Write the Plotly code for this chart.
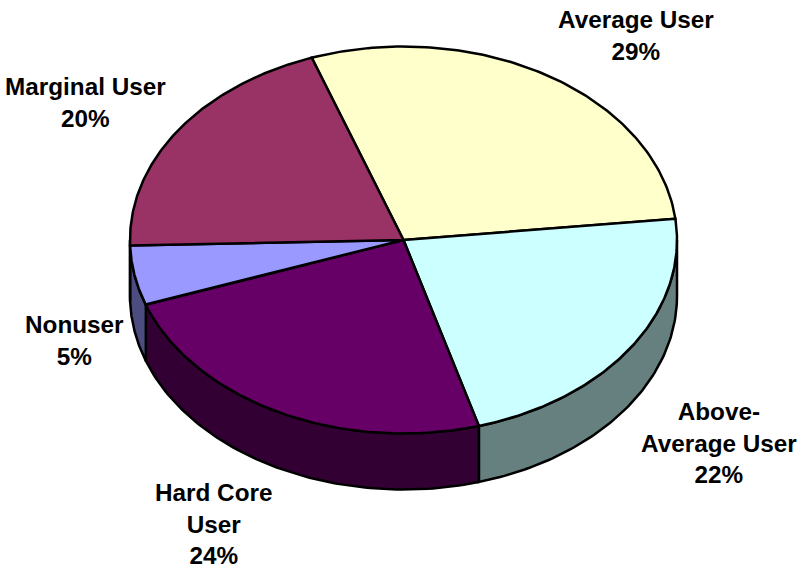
import numpy as np
import plotly.graph_objects as go

categories = ["Average User", "Above-Average User", "Hard Core User", "Nonuser", "Marginal User"]
shares = [28.7, 22.3, 24.0, 5.0, 20.0]
label_text = ["Average User<br>29%", "Above-<br>Average User<br>22%", "Hard Core<br>User<br>24%", "Nonuser<br>5%", "Marginal User<br>20%"]
label_x = [635.5, 719, 213, 74, 85]
label_y = [35, 443, 524, 340, 102]
top_colors = ["#FFFFCC", "#CCFFFF", "#660066", "#9999FF", "#993366"]
side_colors = ["#808066", "#668080", "#330033", "#4C4C80", "#4C1A33"]

CX, CY, RX, RY, DEPTH = 403.5, 240, 273.5, 193.5, 56
START = -19.6

def pt(a):
    r = np.radians(a)
    return CX + RX * np.sin(r), CY - RY * np.cos(r)

fig = go.Figure()
edges = START + np.concatenate([[0], np.cumsum(shares)]) * 3.6

# side walls, only the front half of the rim is visible
for a0, a1, c in zip(edges[:-1], edges[1:], side_colors):
    lo, hi = max(a0, 90), min(a1, 270)
    if hi <= lo:
        continue
    t = np.linspace(lo, hi, 80)
    x, y = pt(t)
    xs = np.concatenate([x, x[::-1], x[:1]])
    ys = np.concatenate([y, y[::-1] + DEPTH, y[:1]])
    fig.add_trace(go.Scatter(x=xs, y=ys, mode="lines", fill="toself", fillcolor=c,
                             line=dict(color="black", width=2.5), hoverinfo="skip", showlegend=False))

# top faces
for a0, a1, c, name in zip(edges[:-1], edges[1:], top_colors, categories):
    t = np.linspace(a0, a1, 120)
    x, y = pt(t)
    xs = np.concatenate([[CX], x, [CX]])
    ys = np.concatenate([[CY], y, [CY]])
    fig.add_trace(go.Scatter(x=xs, y=ys, mode="lines", fill="toself", fillcolor=c, name=name,
                             line=dict(color="black", width=2.5), hoverinfo="name", showlegend=False))

for tx, lx, ly in zip(label_text, label_x, label_y):
    fig.add_annotation(x=lx, y=ly, text="<b>" + tx + "</b>", showarrow=False, align="center",
                       font=dict(family="Liberation Sans", size=24.3, color="black"))

fig.update_layout(
    width=797, height=567, margin=dict(l=0, r=0, t=0, b=0),
    paper_bgcolor="white", plot_bgcolor="white",
    xaxis=dict(range=[0, 797], visible=False),
    yaxis=dict(range=[567, 0], visible=False),
)
fig.write_html("out.html", config={"displayModeBar": False},
               post_script="document.body.style.margin='0';document.body.style.overflow='hidden';")
